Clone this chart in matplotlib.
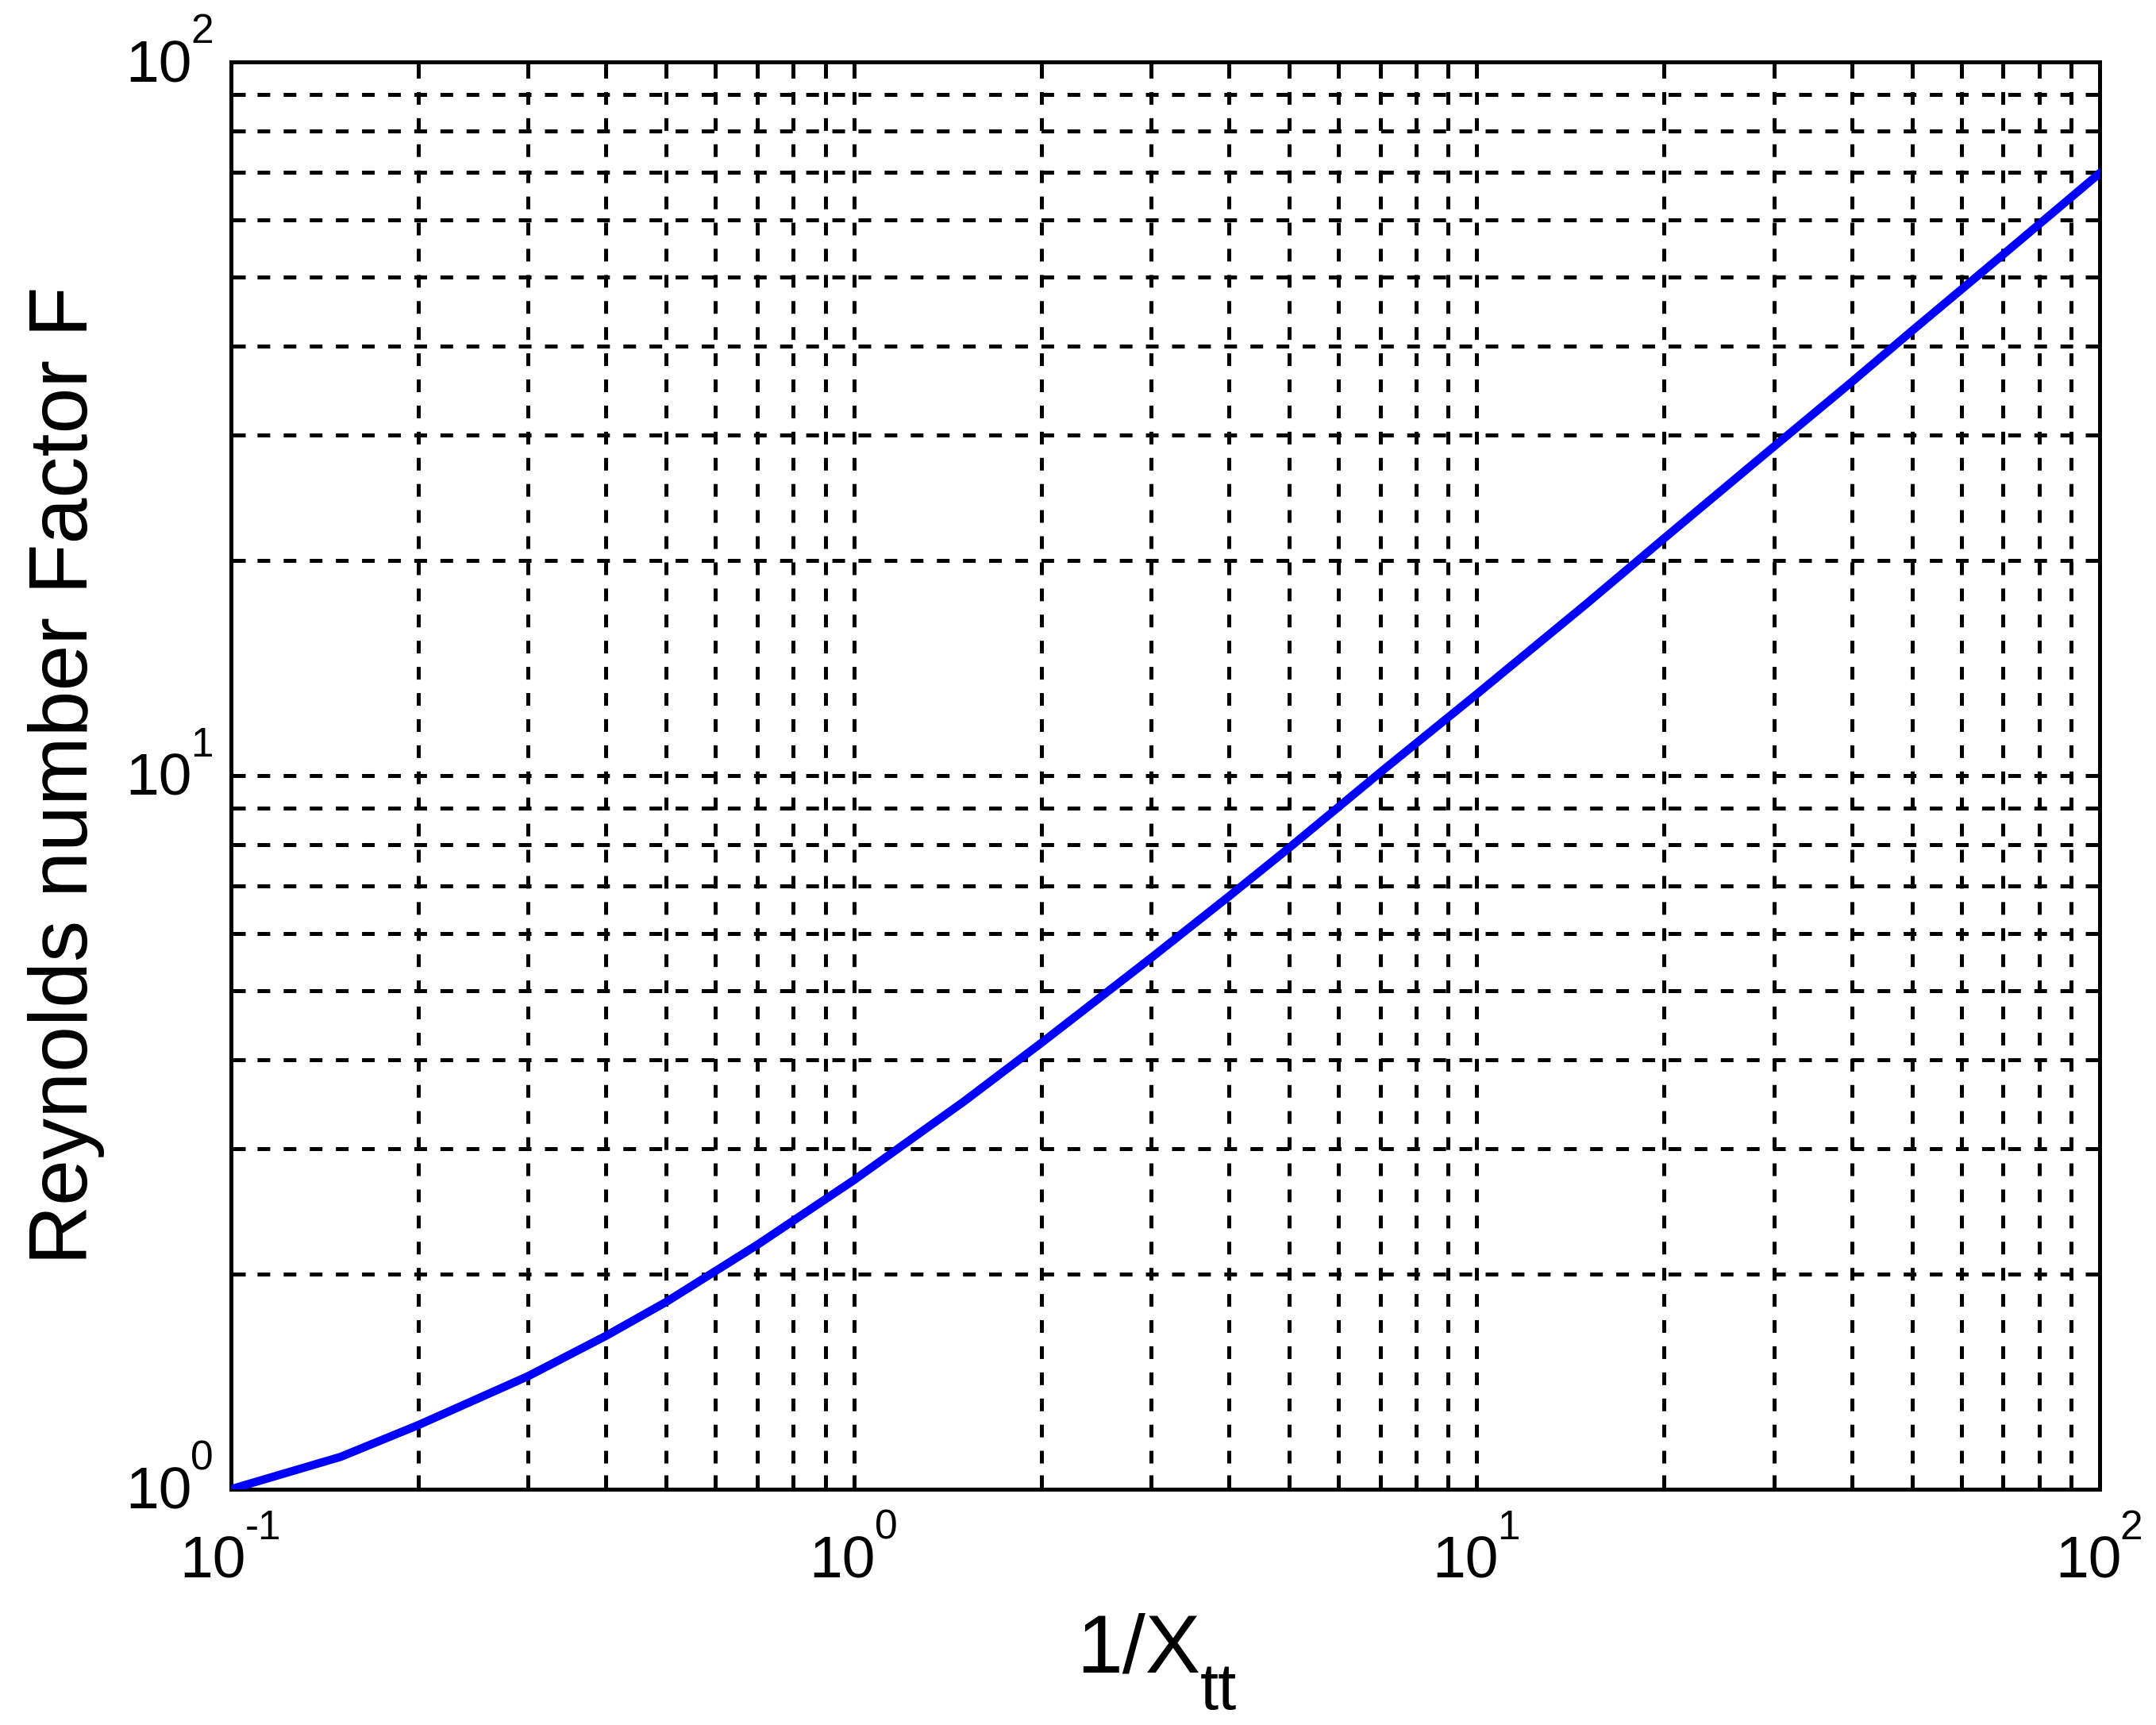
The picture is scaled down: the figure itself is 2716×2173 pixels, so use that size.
import numpy as np
import matplotlib
matplotlib.use("Agg")
import matplotlib.pyplot as plt
from matplotlib.ticker import LogLocator, NullFormatter, FixedLocator

# curve: 1/Xtt vs Reynolds number factor F
inv_xtt = [0.1, 0.15, 0.2, 0.3, 0.4, 0.5, 0.7, 1.0, 1.5, 2.0, 3.0, 4.0, 5.0,
           7.0, 10.0, 15.0, 20.0, 30.0, 40.0, 50.0, 70.0, 100.0]
factor_f = [1.00, 1.11, 1.23, 1.44, 1.64, 1.83, 2.20, 2.71, 3.49, 4.22, 5.55,
            6.77, 7.92, 10.1, 13.0, 17.4, 21.5, 28.9, 35.6, 42.0, 53.7, 69.8]

x_ticks = [0.1, 1, 10, 100]
x_exps = ['-1', '0', '1', '2']
y_ticks = [1, 10, 100]
y_exps = ['0', '1', '2']
x_lim = [0.1, 100]
y_lim = [1, 100]
x_label_main = "1/X"
x_label_sub = "tt"
y_label = "Reynolds number Factor F"

plt.rcParams['font.family'] = ['Liberation Sans', 'DejaVu Sans']
plt.rcParams['lines.scale_dashes'] = False

PX = 0.72          # points per pixel at dpi 100
FS = 54            # tick label size
FS_SUP = 37        # exponent size
FS_LAB = 75        # axis label size


def sup_width(s):
    # advance widths of Liberation Sans glyphs, in points
    return sum((0.333 if ch == '-' else 0.556) * FS_SUP for ch in s)


fig = plt.figure(figsize=(27.16, 21.73), dpi=100)
ax = fig.add_axes([0.1071, 0.1367, 0.8667, 0.8274])

ax.plot(inv_xtt, factor_f, color=(0, 0, 1), linewidth=7.5, zorder=3)

ax.set_xscale('log')
ax.set_yscale('log')
ax.set_xlim(x_lim)
ax.set_ylim(y_lim)

ax.xaxis.set_major_locator(FixedLocator(x_ticks))
ax.yaxis.set_major_locator(FixedLocator(y_ticks))
for axis in (ax.xaxis, ax.yaxis):
    axis.set_minor_locator(LogLocator(base=10, subs=np.arange(2, 10)))
    axis.set_major_formatter(NullFormatter())
    axis.set_minor_formatter(NullFormatter())

# dashed grid on every decade and sub-decade
ax.grid(True, which='both', color='black', linewidth=3.6,
        linestyle=(0, (11.5, 12.2)))
ax.set_axisbelow(True)

for sp in ax.spines.values():
    sp.set_linewidth(3.6)
    sp.set_color('black')

ax.tick_params(which='both', direction='in', top=True, right=True,
               width=3.6, length=13, color='black')

# MATLAB style 10^n labels, exponent raised high
w10 = 1.112 * FS
for v, e in zip(x_ticks, x_exps):
    c = (w10 - sup_width(e)) / 2
    ax.annotate("10", xy=(v, 0), xycoords=('data', 'axes fraction'),
                xytext=(c, -112 * PX), textcoords='offset points',
                ha='right', va='baseline', fontsize=FS, annotation_clip=False)
    ax.annotate(e, xy=(v, 0), xycoords=('data', 'axes fraction'),
                xytext=(c - 1, -63 * PX), textcoords='offset points',
                ha='left', va='baseline', fontsize=FS_SUP, annotation_clip=False)

for v, e in zip(y_ticks, y_exps):
    r = -22 * PX
    ax.annotate(e, xy=(0, v), xycoords=('axes fraction', 'data'),
                xytext=(r, 24 * PX), textcoords='offset points',
                ha='right', va='baseline', fontsize=FS_SUP, annotation_clip=False)
    ax.annotate("10", xy=(0, v), xycoords=('axes fraction', 'data'),
                xytext=(r - sup_width(e) + 1, -25 * PX), textcoords='offset points',
                ha='right', va='baseline', fontsize=FS, annotation_clip=False)

# x label 1/X with subscript tt
ax.annotate(x_label_main, xy=(0.5, 0), xycoords='axes fraction',
            xytext=(45 * PX, -231 * PX), textcoords='offset points',
            ha='right', va='baseline', fontsize=FS_LAB, annotation_clip=False)
ax.annotate(x_label_sub, xy=(0.5, 0), xycoords='axes fraction',
            xytext=(44 * PX, -277 * PX), textcoords='offset points',
            ha='left', va='baseline', fontsize=60, annotation_clip=False)

ax.set_ylabel(y_label, fontsize=FS_LAB)
ax.yaxis.set_label_coords(-0.0675, 0.5)

fig.savefig("out.png", dpi=100)
